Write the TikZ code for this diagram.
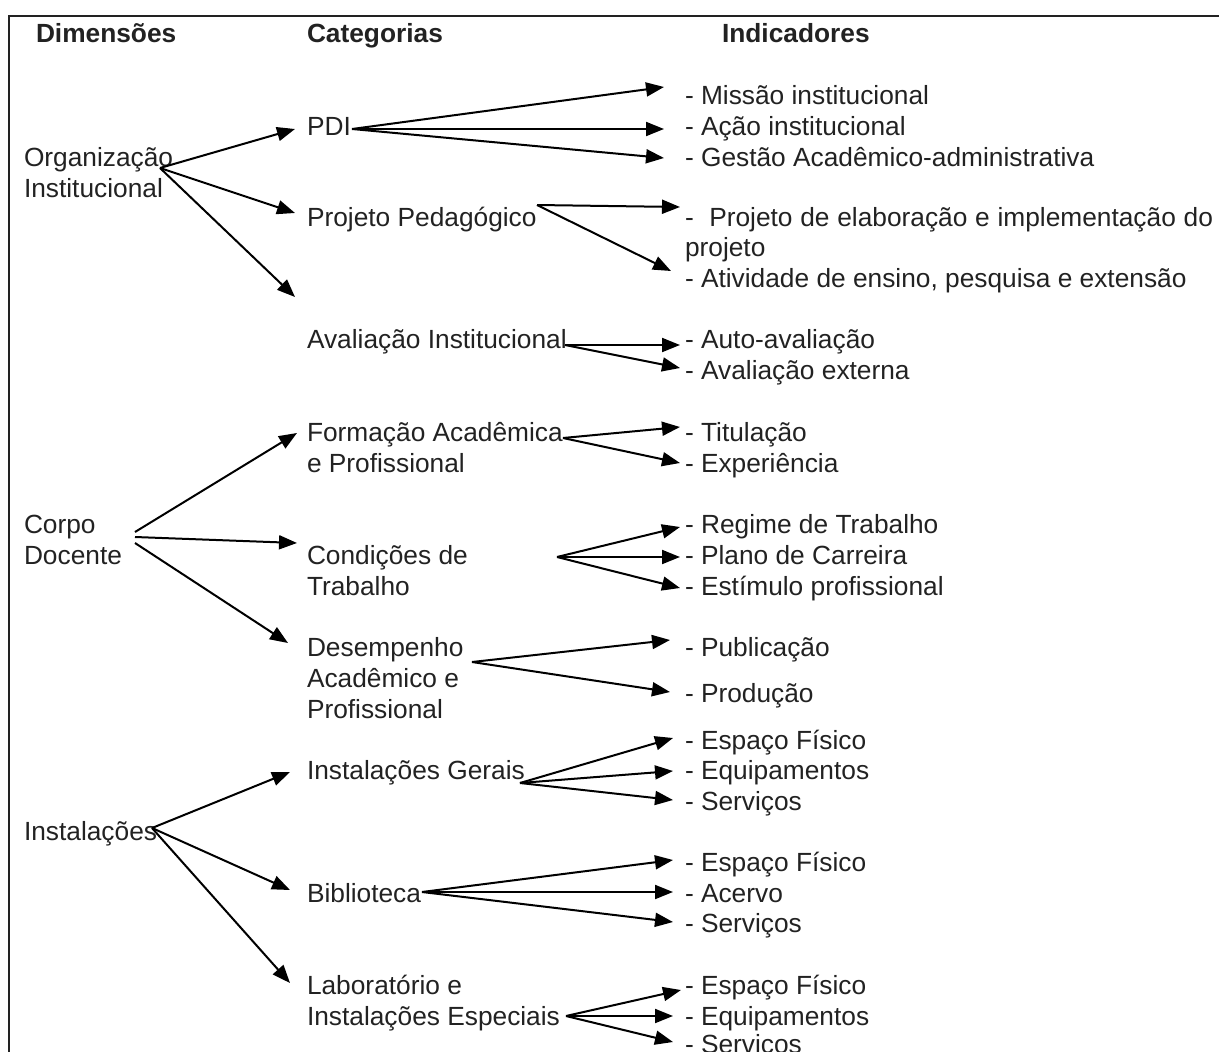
\documentclass[tikz,border=0pt]{standalone}
\usepackage{fontspec}
\setmainfont{Liberation Sans}
\usetikzlibrary{arrows.meta}
\definecolor{ink}{HTML}{222222}
\begin{document}
\begin{tikzpicture}[x=1pt,y=-1pt,
  txt/.style={anchor=base west,inner sep=0pt,outer sep=0pt,text=ink,font=\fontsize{26.3}{31}\selectfont},
  hdr/.style={txt,font=\fontsize{26.3}{31}\selectfont\bfseries},
  arr/.style={line width=2pt,draw=black,-{Triangle[length=18pt,width=14pt]}},
  frame/.style={line width=2.5pt,draw=ink}]
\useasboundingbox (0,0) rectangle (1219,1052);
% frame
\coordinate (fl) at (9,1052);
\coordinate (fc) at (9,16);
\coordinate (fr) at (1219,16);
\draw[frame] (fl) -- (fc) -- (fr);
% headers
\node[hdr] (h1) at (36,42) {Dimensões};
\node[hdr] (h2) at (307,42) {Categorias};
\node[hdr] (h3) at (722,42) {Indicadores};
% dimensions
\node[txt] (d1a) at (24,166) {Organização};
\node[txt] (d1b) at (24,197) {Institucional};
\node[txt] (d2a) at (24,533) {Corpo};
\node[txt] (d2b) at (24,564) {Docente};
\node[txt] (d3) at (24,840) {Instalações};
% categories
\node[txt] (c1) at (307,135) {PDI};
\node[txt] (c2) at (307,226) {Projeto Pedagógico};
\node[txt] (c3) at (307,348) {Avaliação Institucional};
\node[txt] (c4a) at (307,441) {Formação Acadêmica};
\node[txt] (c4b) at (307,472) {e Profissional};
\node[txt] (c5a) at (307,564) {Condições de};
\node[txt] (c5b) at (307,595) {Trabalho};
\node[txt] (c6a) at (307,656) {Desempenho};
\node[txt] (c6b) at (307,687) {Acadêmico e};
\node[txt] (c6c) at (307,718) {Profissional};
\node[txt] (c7) at (307,779) {Instalações Gerais};
\node[txt] (c8) at (307,902) {Biblioteca};
\node[txt] (c9a) at (307,994) {Laboratório e};
\node[txt] (c9b) at (307,1025) {Instalações Especiais};
% indicators
\node[txt] (i1) at (685,104) {- Missão institucional};
\node[txt] (i2) at (685,135) {- Ação institucional};
\node[txt] (i3) at (685,166) {- Gestão Acadêmico-administrativa};
\node[txt] (i4a) at (685,226) {\makebox[528pt][s]{- \ Projeto de elaboração e implementação do}};
\node[txt] (i4b) at (685,256) {projeto};
\node[txt] (i5) at (685,287) {- Atividade de ensino, pesquisa e extensão};
\node[txt] (i6) at (685,348) {- Auto-avaliação};
\node[txt] (i7) at (685,379) {- Avaliação externa};
\node[txt] (i8) at (685,441) {- Titulação};
\node[txt] (i9) at (685,472) {- Experiência};
\node[txt] (i10) at (685,533) {- Regime de Trabalho};
\node[txt] (i11) at (685,564) {- Plano de Carreira};
\node[txt] (i12) at (685,595) {- Estímulo profissional};
\node[txt] (i13) at (685,656) {- Publicação};
\node[txt] (i14) at (685,702) {- Produção};
\node[txt] (i15) at (685,749) {- Espaço Físico};
\node[txt] (i16) at (685,779) {- Equipamentos};
\node[txt] (i17) at (685,810) {- Serviços};
\node[txt] (i18) at (685,871) {- Espaço Físico};
\node[txt] (i19) at (685,902) {- Acervo};
\node[txt] (i20) at (685,932) {- Serviços};
\node[txt] (i21) at (685,994) {- Espaço Físico};
\node[txt] (i22) at (685,1025) {- Equipamentos};
\node[txt] (i23) at (685,1053) {- Serviços};
% arrow origins
\coordinate (oOrg) at (160,168);
\coordinate (oPDI) at (352,129);
\coordinate (oPP) at (537,205);
\coordinate (oAI) at (565,345);
\coordinate (oFA) at (563,438);
\coordinate (oCDa) at (135,532);
\coordinate (oCDb) at (135,537);
\coordinate (oCDc) at (135,543);
\coordinate (oCT) at (557,557);
\coordinate (oDA) at (472,662);
\coordinate (oIns) at (152,828);
\coordinate (oIG) at (520,783);
\coordinate (oBib) at (422,892);
\coordinate (oLab) at (566,1016);
% arrow tips
\coordinate (tPDI) at (295,129);
\coordinate (tPP) at (295,213);
\coordinate (tAI) at (295,297);
\coordinate (t1) at (664,87);
\coordinate (t2) at (664,129);
\coordinate (t3) at (664,158);
\coordinate (t4) at (680,207);
\coordinate (t5) at (671,271);
\coordinate (t6) at (680,345);
\coordinate (t7) at (680,368);
\coordinate (t8) at (680,427);
\coordinate (t9) at (680,463);
\coordinate (tFA) at (297,433);
\coordinate (tCT) at (297,543);
\coordinate (tDA) at (288,643);
\coordinate (t10) at (680,527);
\coordinate (t11) at (680,557);
\coordinate (t12) at (680,588);
\coordinate (t13) at (670,640);
\coordinate (t14) at (670,692);
\coordinate (tIG) at (290,772);
\coordinate (tBib) at (290,890);
\coordinate (tLab) at (290,983);
\coordinate (t15) at (673,738);
\coordinate (t16) at (673,771);
\coordinate (t17) at (673,800);
\coordinate (t18) at (673,860);
\coordinate (t19) at (673,892);
\coordinate (t20) at (673,922);
\coordinate (t21) at (681,990);
\coordinate (t22) at (673,1016);
\coordinate (t23) at (673,1042);
% arrows
\draw[arr] (oOrg) -- (tPDI);
\draw[arr] (oOrg) -- (tPP);
\draw[arr] (oOrg) -- (tAI);
\draw[arr] (oPDI) -- (t1);
\draw[arr] (oPDI) -- (t2);
\draw[arr] (oPDI) -- (t3);
\draw[arr] (oPP) -- (t4);
\draw[arr] (oPP) -- (t5);
\draw[arr] (oAI) -- (t6);
\draw[arr] (oAI) -- (t7);
\draw[arr] (oFA) -- (t8);
\draw[arr] (oFA) -- (t9);
\draw[arr] (oCDa) -- (tFA);
\draw[arr] (oCDb) -- (tCT);
\draw[arr] (oCDc) -- (tDA);
\draw[arr] (oCT) -- (t10);
\draw[arr] (oCT) -- (t11);
\draw[arr] (oCT) -- (t12);
\draw[arr] (oDA) -- (t13);
\draw[arr] (oDA) -- (t14);
\draw[arr] (oIns) -- (tIG);
\draw[arr] (oIns) -- (tBib);
\draw[arr] (oIns) -- (tLab);
\draw[arr] (oIG) -- (t15);
\draw[arr] (oIG) -- (t16);
\draw[arr] (oIG) -- (t17);
\draw[arr] (oBib) -- (t18);
\draw[arr] (oBib) -- (t19);
\draw[arr] (oBib) -- (t20);
\draw[arr] (oLab) -- (t21);
\draw[arr] (oLab) -- (t22);
\draw[arr] (oLab) -- (t23);
\end{tikzpicture}
\end{document}
